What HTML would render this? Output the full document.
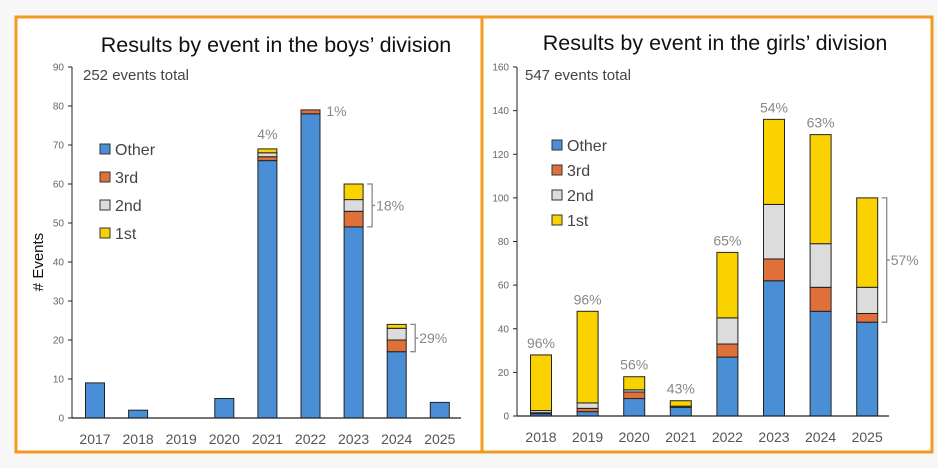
<!DOCTYPE html>
<html><head><meta charset="utf-8"><style>
html,body{margin:0;padding:0;background:#f7f7f7;}
svg{display:block;font-family:"Liberation Sans",sans-serif;}
</style></head><body>
<svg id="s" width="938" height="468" viewBox="0 0 938 468">
<rect x="16" y="17" width="916" height="435" fill="#fff" stroke="#f39a22" stroke-width="3"/>
<line x1="482" y1="17" x2="482" y2="452" stroke="#f39a22" stroke-width="3"/>
<text x="276" y="52" text-anchor="middle" font-size="21.5" fill="#111">Results by event in the boys’ division</text>
<text x="715" y="50" text-anchor="middle" font-size="21.5" fill="#111">Results by event in the girls’ division</text>
<text x="83" y="80" font-size="15" fill="#444">252 events total</text>
<text x="525" y="80" font-size="15" fill="#444">547 events total</text>
<text transform="translate(43,262) rotate(-90)" text-anchor="middle" font-size="15" fill="#111"># Events</text>
<g id="L"></g>
<g id="R"></g>
</svg>
<script>
const seriesNames=["Other","3rd","2nd","1st"];
const colors=["#4a8fd6","#e0703a","#dcdcdc","#f9d200"];
const boysYears=["2017","2018","2019","2020","2021","2022","2023","2024","2025"];
const boysOther=[9,2,0,5,66,78,49,17,4];
const boys3rd=[0,0,0,0,1,1,4,3,0];
const boys2nd=[0,0,0,0,1,0,3,3,0];
const boys1st=[0,0,0,0,1,0,4,1,0];
const boysTicks=[0,10,20,30,40,50,60,70,80,90];
const girlsYears=["2018","2019","2020","2021","2022","2023","2024","2025"];
const girlsOther=[1,2,8,4,27,62,48,43];
const girls3rd=[0.5,1.5,3,0,6,10,11,4];
const girls2nd=[1,2.5,1,0.5,12,25,20,12];
const girls1st=[25.5,42,6,2.5,30,39,50,41];
const girlsTicks=[0,20,40,60,80,100,120,140,160];
const NS="http://www.w3.org/2000/svg";
function mk(p,t,a){const e=document.createElementNS(NS,t);for(const k in a)e.setAttribute(k,a[k]);p.appendChild(e);return e;}
function chart(g,cfg){
  const y=v=>cfg.y0-(v/cfg.max)*(cfg.y0-cfg.yTop);
  const x=i=>cfg.c0+i*cfg.step;
  const ax=mk(g,'line',{x1:cfg.ax,y1:cfg.yTop,x2:cfg.ax,y2:cfg.y0,stroke:'#222','stroke-width':1});
  
  
  cfg.ticks.forEach(t=>{
    const tl=mk(g,'line',{x1:cfg.ax-4,y1:y(t),x2:cfg.ax,y2:y(t),stroke:'#222'});
    
    
    const tx=mk(g,'text',{x:cfg.ax-8,y:y(t)+3.5,'text-anchor':'end','font-size':10,fill:'#666'});tx.textContent=t;
    
    
  });
  const bw=cfg.bw;
  cfg.cats.forEach((c,i)=>{
    let acc=0;
    cfg.series.forEach((s,k)=>{
      const v=s[i];if(v<=0)return;
      const r=mk(g,'rect',{x:x(i)-bw/2,y:y(acc+v),width:bw,height:y(acc)-y(acc+v),fill:colors[k],stroke:'#222','stroke-width':1});
      
      
      acc+=v;
    });
    const lb=mk(g,'text',{x:x(i),y:cfg.y0+26,'text-anchor':'middle','font-size':14,fill:'#555'});lb.textContent=c;
    
    
  });
  const xa=mk(g,'line',{x1:cfg.ax,y1:cfg.y0,x2:cfg.axEnd,y2:cfg.y0,stroke:'#222','stroke-width':1.2});
  
  
  seriesNames.forEach((n,k)=>{
    const ly=cfg.legY+k*cfg.legStep;
    const r=mk(g,'rect',{x:cfg.legX,y:ly-9,width:10,height:10,fill:colors[k],stroke:'#333'});
    
    
    const t=mk(g,'text',{x:cfg.legX+15,y:ly+2,'font-size':16,fill:'#444'});t.textContent=n;
    
    
  });
  cfg.pcts.forEach(p=>{
    const i=p[0];let tot=0;cfg.series.forEach(s=>tot+=s[i]);
    if(p[2]){
      const lo=y(cfg.series[0][i]),hi=y(tot),bx=x(i)+bw/2+4;
      const b=mk(g,'path',{d:`M${bx} ${hi}H${bx+5}V${lo}H${bx}M${bx+5} ${(hi+lo)/2}H${bx+8}`,fill:'none',stroke:'#888','stroke-width':1.3});
      
      
      const t=mk(g,'text',{x:bx+9,y:(hi+lo)/2+5,'font-size':14,fill:'#888'});t.textContent=p[1];
      
      
    }else{
      const t=mk(g,'text',{x:x(i)+(p[3]||0),y:y(tot)-(p[4]||7),'text-anchor':'middle','font-size':14,fill:'#888'});t.textContent=p[1];
      
      
    }
  });
}
chart(document.getElementById('L'),{cats:boysYears,series:[boysOther,boys3rd,boys2nd,boys1st],ticks:boysTicks,max:90,
  y0:418,yTop:67,ax:72,axEnd:461,c0:95,step:43.1,bw:19,legX:100,legY:153,legStep:28,
  pcts:[[4,"4%",0,0,10],[5,"1%",0,26,-6],[6,"18%",1],[7,"29%",1]]});
chart(document.getElementById('R'),{cats:girlsYears,series:[girlsOther,girls3rd,girls2nd,girls1st],ticks:girlsTicks,max:160,
  y0:416,yTop:67,ax:517,axEnd:889,c0:541,step:46.6,bw:21,legX:552,legY:149,legStep:25,
  pcts:[[0,"96%"],[1,"96%"],[2,"56%"],[3,"43%"],[4,"65%"],[5,"54%"],[6,"63%"],[7,"57%",1]]});
</script>
</body></html>
